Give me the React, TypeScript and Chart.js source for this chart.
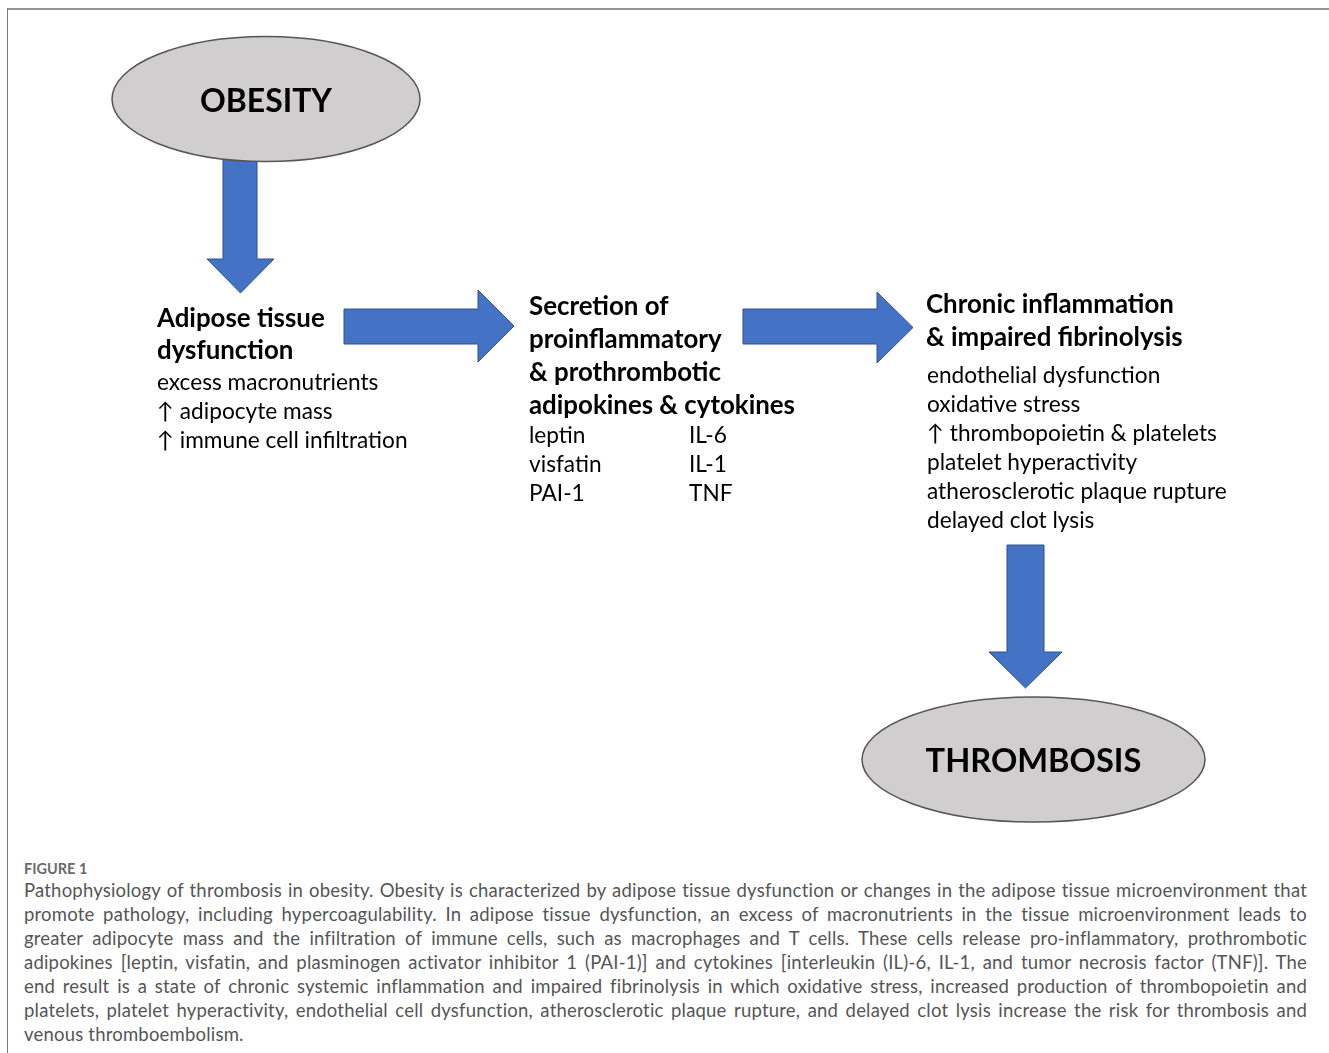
import React, { useEffect, useRef } from "react";
import { Chart, registerables } from "chart.js";

Chart.register(...registerables);

// ---------- content (text data) ----------
const nodeLabels = ["OBESITY", "THROMBOSIS"];
const adiposeTitle = ["Adipose tissue", "dysfunction"];
const adiposeItems = ["excess macronutrients", "\u2191 adipocyte mass", "\u2191 immune cell infiltration"];
const secretionTitle = ["Secretion of", "proinflammatory", "& prothrombotic", "adipokines & cytokines"];
const adipokines = ["leptin", "visfatin", "PAI-1"];
const cytokines = ["IL-6", "IL-1", "TNF"];
const chronicTitle = ["Chronic inflammation", "& impaired fibrinolysis"];
const chronicItems = [
  "endothelial dysfunction",
  "oxidative stress",
  "\u2191 thrombopoietin & platelets",
  "platelet hyperactivity",
  "atherosclerotic plaque rupture",
  "delayed clot lysis",
];
const figureLabel = "FIGURE 1";
const captionLines = [
  "Pathophysiology of thrombosis in obesity. Obesity is characterized by adipose tissue dysfunction or changes in the adipose tissue microenvironment that",
  "promote pathology, including hypercoagulability. In adipose tissue dysfunction, an excess of macronutrients in the tissue microenvironment leads to",
  "greater adipocyte mass and the infiltration of immune cells, such as macrophages and T cells. These cells release pro-inflammatory, prothrombotic",
  "adipokines [leptin, visfatin, and plasminogen activator inhibitor 1 (PAI-1)] and cytokines [interleukin (IL)-6, IL-1, and tumor necrosis factor (TNF)]. The",
  "end result is a state of chronic systemic inflammation and impaired fibrinolysis in which oxidative stress, increased production of thrombopoietin and",
  "platelets, platelet hyperactivity, endothelial cell dysfunction, atherosclerotic plaque rupture, and delayed clot lysis increase the risk for thrombosis and",
  "venous thromboembolism.",
];

// ---------- layout (diagram coordinates, px in a 1329 x 850 space) ----------
const W = 1329;
const H = 850;
const FONT = 'Lato, "DejaVu Sans", sans-serif';

const ellipseLayout = [
  { cx: 266, cy: 99, rx: 154, ry: 62.5, baseline: 112, textWidth: 132 },
  { cx: 1033.5, cy: 759.5, rx: 171.5, ry: 62.5, baseline: 772, textWidth: 216 },
];

const arrowLayout = [
  { dir: "down", a0: 223, a1: 257, start: 150, headBase: 259, h0: 207, h1: 274, tip: 293 },
  { dir: "right", a0: 309, a1: 344, start: 344, headBase: 478, h0: 290, h1: 362, tip: 514 },
  { dir: "right", a0: 309, a1: 344, start: 743, headBase: 877, h0: 292, h1: 363, tip: 913 },
  { dir: "down", a0: 1007, a1: 1044, start: 545, headBase: 652, h0: 989, h1: 1062, tip: 688 },
];

const blockLayout = [
  { lines: adiposeTitle, x: 157, y0: 327, dy: 32, kind: "head" },
  { lines: adiposeItems, x: 157, y0: 390, dy: 29, kind: "body" },
  { lines: secretionTitle, x: 529, y0: 315, dy: 33, kind: "head" },
  { lines: adipokines, x: 529, y0: 443, dy: 29, kind: "body" },
  { lines: cytokines, x: 689, y0: 443, dy: 29, kind: "body" },
  { lines: chronicTitle, x: 926, y0: 313, dy: 33, kind: "head" },
  { lines: chronicItems, x: 927, y0: 383, dy: 29, kind: "body" },
];

function fitSize(ctx: CanvasRenderingContext2D, text: string, weight: string, target: number) {
  ctx.font = `${weight} 100px ${FONT}`;
  const w = ctx.measureText(text).width;
  return (100 * target) / w;
}

const diagramPlugin = {
  id: "diagram",
  afterDraw(chart: any) {
    const ctx: CanvasRenderingContext2D = chart.ctx;
    const xs = chart.scales.x;
    const ys = chart.scales.y;
    const px = (v: number) => xs.getPixelForValue(v);
    const py = (v: number) => ys.getPixelForValue(v);
    ctx.save();

    // arrows
    arrowLayout.forEach((a) => {
      ctx.beginPath();
      const mid = (a.h0 + a.h1) / 2;
      if (a.dir === "right") {
        ctx.moveTo(px(a.start), py(a.a0));
        ctx.lineTo(px(a.headBase), py(a.a0));
        ctx.lineTo(px(a.headBase), py(a.h0));
        ctx.lineTo(px(a.tip), py(mid));
        ctx.lineTo(px(a.headBase), py(a.h1));
        ctx.lineTo(px(a.headBase), py(a.a1));
        ctx.lineTo(px(a.start), py(a.a1));
      } else {
        ctx.moveTo(px(a.a0), py(a.start));
        ctx.lineTo(px(a.a0), py(a.headBase));
        ctx.lineTo(px(a.h0), py(a.headBase));
        ctx.lineTo(px(mid), py(a.tip));
        ctx.lineTo(px(a.h1), py(a.headBase));
        ctx.lineTo(px(a.a1), py(a.headBase));
        ctx.lineTo(px(a.a1), py(a.start));
      }
      ctx.closePath();
      ctx.fillStyle = "#4472c4";
      ctx.fill();
      ctx.lineWidth = 1;
      ctx.strokeStyle = "#2f528f";
      ctx.stroke();
    });

    // ellipses
    const sx = Math.abs(px(1) - px(0));
    const sy = Math.abs(py(1) - py(0));
    ellipseLayout.forEach((e, i) => {
      ctx.beginPath();
      ctx.ellipse(px(e.cx), py(e.cy), e.rx * sx, e.ry * sy, 0, 0, Math.PI * 2);
      ctx.fillStyle = "#d0cece";
      ctx.fill();
      ctx.lineWidth = 1.5;
      ctx.strokeStyle = "#555555";
      ctx.stroke();
      const size = fitSize(ctx, nodeLabels[i], "bold", e.textWidth * sx);
      ctx.font = `bold ${size}px ${FONT}`;
      ctx.fillStyle = "#000";
      ctx.textAlign = "center";
      ctx.textBaseline = "alphabetic";
      ctx.fillText(nodeLabels[i], px(e.cx), py(e.baseline));
    });

    // text blocks
    const headSize = fitSize(ctx, "adipokines & cytokines", "bold", 266 * sx);
    const bodySize = fitSize(ctx, "atherosclerotic plaque rupture", "normal", 300 * sx);
    ctx.textAlign = "left";
    ctx.textBaseline = "alphabetic";
    ctx.fillStyle = "#000";
    blockLayout.forEach((b) => {
      ctx.font = b.kind === "head" ? `bold ${headSize}px ${FONT}` : `normal ${bodySize}px ${FONT}`;
      b.lines.forEach((t, j) => {
        ctx.fillText(t, px(b.x), py(b.y0 + j * b.dy));
      });
    });
    ctx.restore();
  },
};

export default function App() {
  const canvasRef = useRef<HTMLCanvasElement | null>(null);

  useEffect(() => {
    if (!canvasRef.current) return;
    const chart = new Chart(canvasRef.current, {
      type: "scatter",
      data: {
        datasets: [
          {
            label: "nodes",
            data: ellipseLayout.map((e) => ({ x: e.cx, y: e.cy })),
            pointRadius: 0,
            showLine: false,
          },
        ],
      },
      options: {
        responsive: false,
        animation: false,
        devicePixelRatio: 1,
        layout: { padding: 0 },
        events: [],
        plugins: { legend: { display: false }, tooltip: { enabled: false }, title: { display: false } },
        scales: {
          x: { type: "linear", min: 0, max: W, display: false },
          y: { type: "linear", min: 0, max: H, reverse: true, display: false },
        },
      },
      plugins: [diagramPlugin],
    });
    return () => chart.destroy();
  }, []);

  return (
    <div
      style={{
        position: "fixed",
        left: 0,
        top: 0,
        width: 1329,
        height: 1053,
        overflow: "hidden",
        background: "#fff",
      }}
    >
      <div
        style={{
          position: "absolute",
          left: 7,
          top: 8,
          right: -10,
          bottom: -10,
          borderTop: "2px solid #959595",
          borderLeft: "1px solid #7a7a7a",
        }}
      />
      <canvas
        ref={canvasRef}
        width={W}
        height={H}
        style={{ position: "absolute", left: 0, top: 0, width: W, height: H }}
      />
      <div
        style={{
          position: "absolute",
          left: 24,
          top: 862,
          fontFamily: FONT,
          fontSize: 14.5,
          lineHeight: "14px",
          fontWeight: 700,
          color: "#6a6a6a",
        }}
      >
        {figureLabel}
      </div>
      <div
        style={{
          position: "absolute",
          left: 24,
          top: 878,
          width: 1283,
          fontFamily: FONT,
          fontSize: 18.5,
          letterSpacing: "0.2px",
          lineHeight: "24px",
          color: "#555",
        }}
      >
        {captionLines.map((l, i) => (
          <div
            key={i}
            style={{
              textAlign: "justify",
              textAlignLast: i < captionLines.length - 1 ? "justify" : "left",
            }}
          >
            {l}
          </div>
        ))}
      </div>
    </div>
  );
}
